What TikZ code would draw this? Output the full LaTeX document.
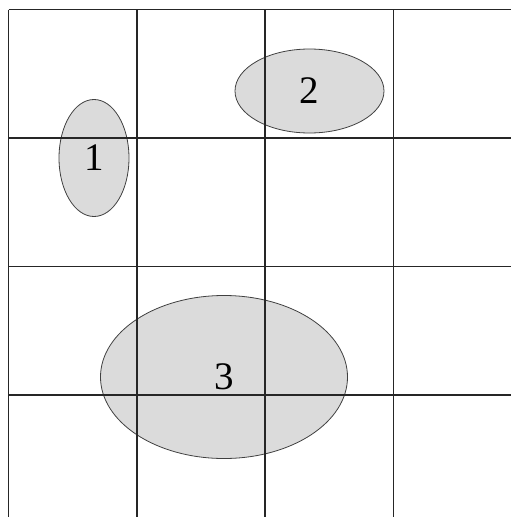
\documentclass[tikz,border=0pt]{standalone}
\usepackage{fontspec}
\setmainfont{Liberation Serif}
\usetikzlibrary{shapes.geometric}

\begin{document}
\begin{tikzpicture}[x=1pt,y=-1pt,
  region/.style={ellipse,draw=black!75,line width=0.8pt,fill=black!14,inner sep=0pt,font=\fontsize{39}{44}\selectfont},
  gridline/.style={line width=1.1pt,black!85}]
  \useasboundingbox (0,0) rectangle (511,517);
  \node[region,minimum width=70,minimum height=117] (r1) at (94,158) {1};
  \node[region,minimum width=149,minimum height=84] (r2) at (309.5,91) {2};
  \node[region,minimum width=247,minimum height=163] (r3) at (224,377) {3};
  \foreach \x in {8.5,137,265,393.5}
    \draw[gridline] (\x,9.5) -- (\x,517);
  \foreach \y in {9.5,138,266.5,395}
    \draw[gridline] (8.5,\y) -- (511,\y);
\end{tikzpicture}
\end{document}
